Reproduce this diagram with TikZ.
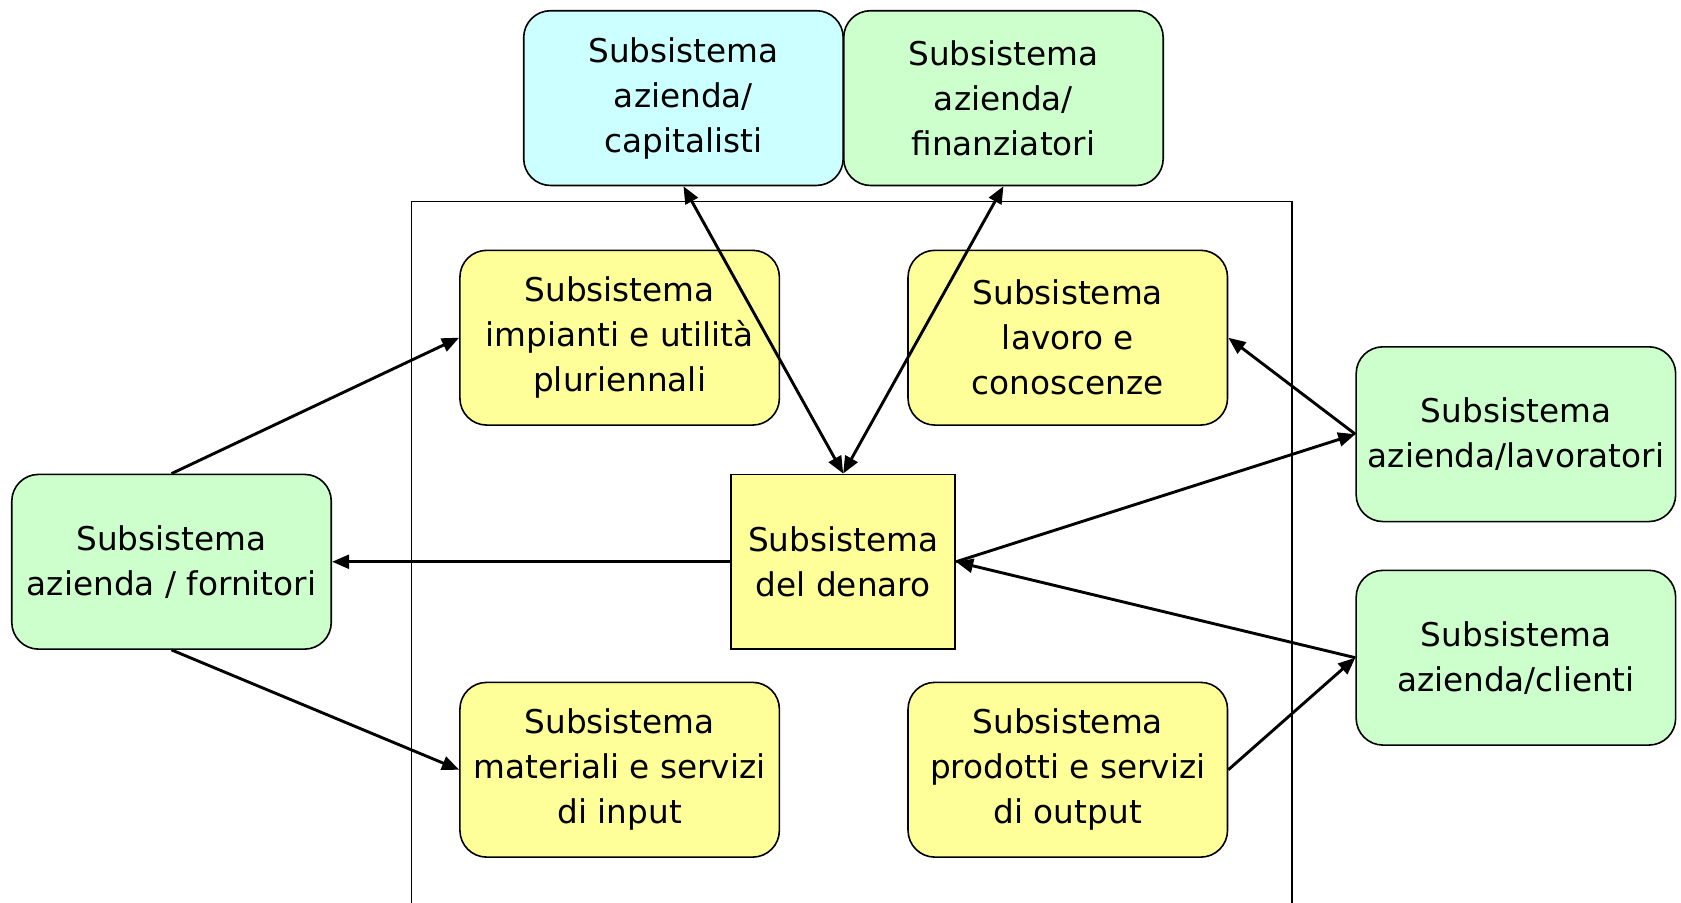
\documentclass[tikz,border=0pt]{standalone}
\usepackage{fontspec}
\setmainfont{DejaVu Sans}
\usetikzlibrary{arrows.meta}
\definecolor{cyanbox}{HTML}{CCFFFF}
\definecolor{greenbox}{HTML}{CCFFCC}
\definecolor{yellowbox}{HTML}{FFFF99}
\begin{document}
\begin{tikzpicture}[x=1pt,y=-1pt,
  box/.style={draw=black, line width=1.5pt, rounded corners=25pt,
    minimum width=298pt, minimum height=163pt, inner sep=0pt,
    align=center, font=\fontsize{30.5}{42}\selectfont},
  cbox/.style={box, fill=cyanbox},
  gbox/.style={box, fill=greenbox},
  ybox/.style={box, fill=yellowbox},
  sqbox/.style={ybox, sharp corners, minimum width=209pt},
  conn/.style={draw=black, line width=2.7pt, -{Triangle[length=16pt,width=13pt]}},
  conn2/.style={draw=black, line width=2.7pt, {Triangle[length=16pt,width=13pt]}-{Triangle[length=16pt,width=13pt]}},
  frame/.style={draw=black, line width=1.5pt}]
\useasboundingbox (0,0) rectangle (1568,842);
% frame
\coordinate (fbl) at (384,845);
\coordinate (ftl) at (384,188);
\coordinate (ftr) at (1205,188);
\coordinate (fbr) at (1205,845);
\draw[frame] (fbl) -- (ftl) -- (ftr) -- (fbr);
% nodes
\node[cbox] (cap) at (637.5,91.5) {Subsistema\\azienda/\\capitalisti};
\node[gbox] (fin) at (936,91.5) {Subsistema\\azienda/\\finanziatori};
\node[ybox] (imp) at (578,315) {Subsistema\\impianti e utilità\\pluriennali};
\node[ybox] (lav) at (996,315) {Subsistema\\lavoro e\\conoscenze};
\node[sqbox] (den) at (786.5,524) {Subsistema\\del denaro};
\node[gbox] (forn) at (160,524) {Subsistema\\azienda / fornitori};
\node[ybox] (mat) at (578,718) {Subsistema\\materiali e servizi\\di input};
\node[ybox] (prod) at (996,718) {Subsistema\\prodotti e servizi\\di output};
\node[gbox] (lavr) at (1414,405) {Subsistema\\azienda/lavoratori};
\node[gbox] (cli) at (1414,613.5) {Subsistema\\azienda/clienti};
% connectors
\draw[conn2] (cap.south) -- (den.north);
\draw[conn2] (fin.south) -- (den.north);
\draw[conn] (forn.north) -- (imp.west);
\draw[conn] (forn.south) -- (mat.west);
\draw[conn] (den.west) -- (forn.east);
\draw[conn] (lavr.west) -- (lav.east);
\draw[conn] (den.east) -- (lavr.west);
\draw[conn] (cli.west) -- (den.east);
\draw[conn] (prod.east) -- (cli.west);
\end{tikzpicture}
\end{document}
